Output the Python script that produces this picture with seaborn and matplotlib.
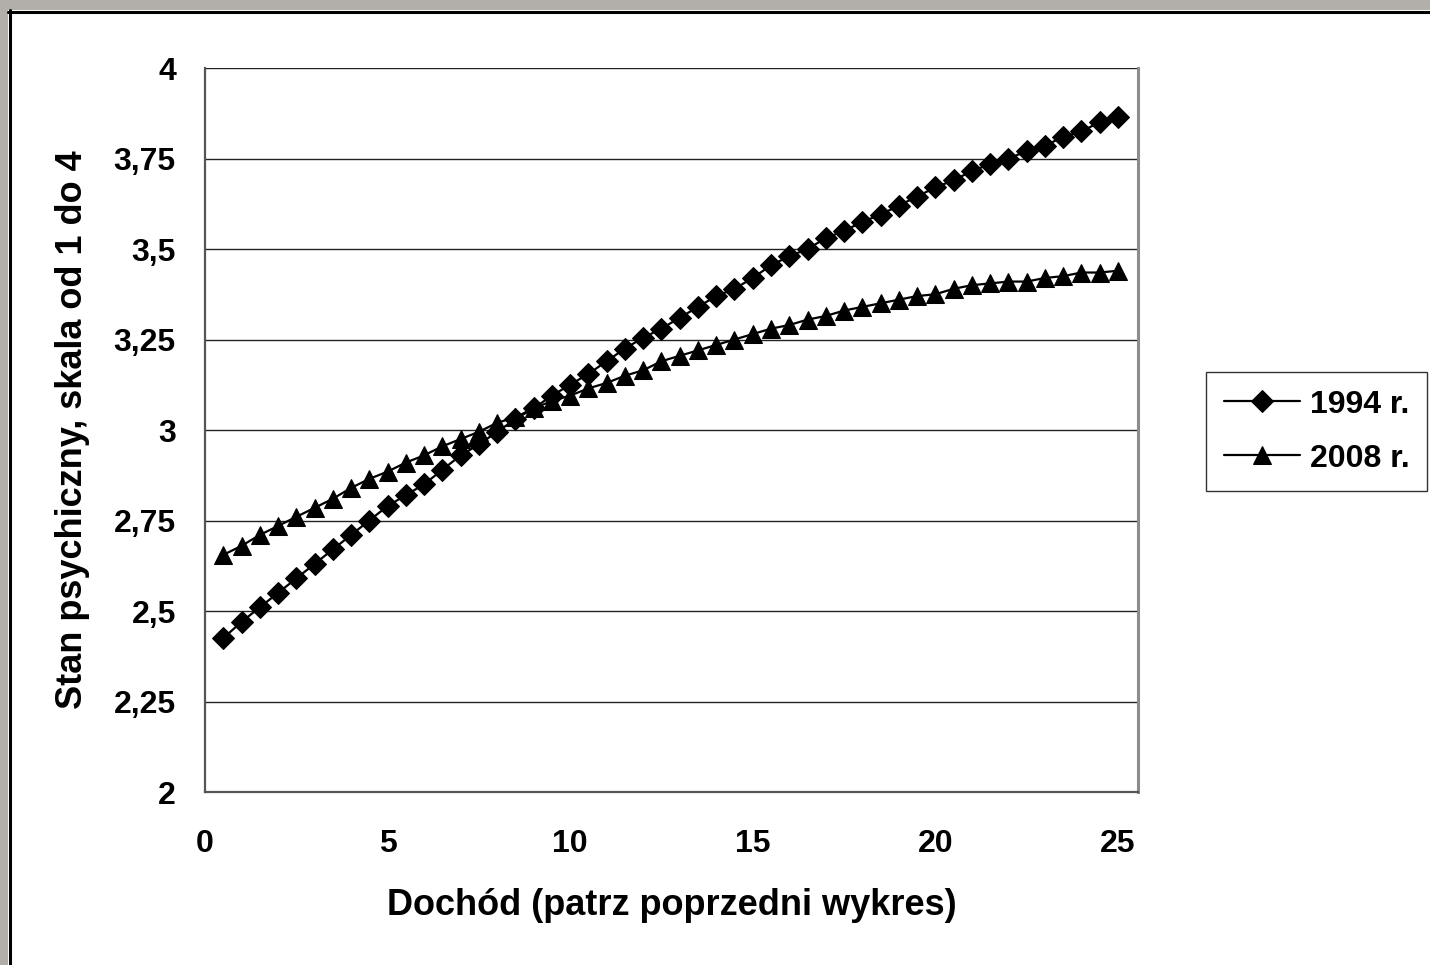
import numpy as np
import pandas as pd
import seaborn as sns
import matplotlib.pyplot as plt
from matplotlib.patches import Rectangle

# values
income = [0.5, 1, 1.5, 2, 2.5, 3, 3.5, 4, 4.5, 5,
          5.5, 6, 6.5, 7, 7.5, 8, 8.5, 9, 9.5, 10,
          10.5, 11, 11.5, 12, 12.5, 13, 13.5, 14, 14.5, 15,
          15.5, 16, 16.5, 17, 17.5, 18, 18.5, 19, 19.5, 20,
          20.5, 21, 21.5, 22, 22.5, 23, 23.5, 24, 24.5, 25]
y1994 = [2.425, 2.47, 2.51, 2.55, 2.59, 2.63, 2.67, 2.71, 2.75, 2.79,
         2.82, 2.85, 2.89, 2.93, 2.96, 2.995, 3.03, 3.06, 3.095, 3.125,
         3.155, 3.19, 3.225, 3.255, 3.28, 3.31, 3.34, 3.37, 3.39, 3.42,
         3.455, 3.48, 3.50, 3.53, 3.55, 3.575, 3.595, 3.62, 3.645, 3.67,
         3.69, 3.715, 3.735, 3.75, 3.77, 3.785, 3.81, 3.825, 3.85, 3.865]
y2008 = [2.655, 2.68, 2.71, 2.735, 2.76, 2.785, 2.81, 2.84, 2.865, 2.885,
         2.91, 2.93, 2.955, 2.975, 2.995, 3.02, 3.035, 3.06, 3.08, 3.095,
         3.115, 3.13, 3.15, 3.165, 3.19, 3.205, 3.22, 3.235, 3.25, 3.265,
         3.28, 3.29, 3.305, 3.315, 3.33, 3.34, 3.35, 3.36, 3.37, 3.375,
         3.39, 3.40, 3.405, 3.41, 3.41, 3.42, 3.425, 3.435, 3.435, 3.44]

y_ticks = [2, 2.25, 2.5, 2.75, 3, 3.25, 3.5, 3.75, 4]
y_tick_labels = ['2', '2,25', '2,5', '2,75', '3', '3,25', '3,5', '3,75', '4']
x_ticks = [0, 5, 10, 15, 20, 25]

sns.set_style("white")
plt.rcParams['font.family'] = ['Liberation Sans', 'DejaVu Sans']
plt.rcParams['font.weight'] = 'bold'
plt.rcParams['text.color'] = 'black'
plt.rcParams['axes.labelcolor'] = 'black'

fig = plt.figure(figsize=(14.3, 9.65), dpi=100)
fig.patch.set_facecolor('white')

# grey outer frame like the original screenshot
gray = '#b2aeaa'
fig.patches.append(Rectangle((0, 0), 8 / 1430, 1, transform=fig.transFigure,
                             facecolor=gray, edgecolor='none', zorder=0))
fig.patches.append(Rectangle((0, 1 - 10 / 965), 1, 10 / 965, transform=fig.transFigure,
                             facecolor=gray, edgecolor='none', zorder=0))
fig.add_artist(plt.Line2D([9.5 / 1430, 9.5 / 1430], [0, 1 - 10 / 965],
                          transform=fig.transFigure, color='black', lw=2.2))
fig.add_artist(plt.Line2D([8 / 1430, 1], [1 - 11.5 / 965, 1 - 11.5 / 965],
                          transform=fig.transFigure, color='black', lw=2.2))

ax = fig.add_axes([205 / 1430, 1 - 792 / 965, (1138 - 205) / 1430, (792 - 68) / 965])

df = pd.DataFrame({'x': income, '1994 r.': y1994, '2008 r.': y2008})
sns.lineplot(data=df, x='x', y='1994 r.', ax=ax, color='black', lw=1.6,
             marker='D', markersize=11, markeredgecolor='black', label='1994 r.')
sns.lineplot(data=df, x='x', y='2008 r.', ax=ax, color='black', lw=1.6,
             marker='^', markersize=13.5, markeredgecolor='black', label='2008 r.')

ax.set_xlim(0, 25.55)
ax.set_ylim(2, 4)
ax.set_yticks(y_ticks)
ax.set_yticklabels(y_tick_labels)
ax.set_xticks(x_ticks)
ax.yaxis.grid(True, color='#222222', lw=1)
ax.set_axisbelow(True)

ax.spines['top'].set_visible(False)
ax.spines['right'].set_color('#8c8c8c')
ax.spines['right'].set_linewidth(2.2)
for s in ['left', 'bottom']:
    ax.spines[s].set_color('#555555')
    ax.spines[s].set_linewidth(1.6)

ax.tick_params(axis='both', direction='out', length=7, width=1.2, color='#555555',
               labelcolor='black', labelsize=23)
ax.tick_params(axis='x', pad=20)
ax.tick_params(axis='y', pad=14)
for lab in ax.get_xticklabels() + ax.get_yticklabels():
    lab.set_fontweight('bold')

ax.set_xlabel('Dochód (patrz poprzedni wykres)', fontsize=26, fontweight='bold')
ax.set_ylabel('Stan psychiczny, skala od 1 do 4', fontsize=26, fontweight='bold')
ax.xaxis.set_label_coords(0.5, -0.132)
ax.yaxis.set_label_coords(-0.123, 0.501)

leg = ax.legend(loc='upper left', bbox_to_anchor=(1206 / 1430, 1 - 372 / 965),
                bbox_transform=fig.transFigure, frameon=True, fancybox=False,
                edgecolor='black', handlelength=2.4, handletextpad=0.3,
                borderpad=0.55, borderaxespad=0, labelspacing=0.75,
                prop={'size': 23, 'weight': 'bold'})
leg.get_frame().set_linewidth(1.0)

fig.savefig('out.png', dpi=100, facecolor='white')
